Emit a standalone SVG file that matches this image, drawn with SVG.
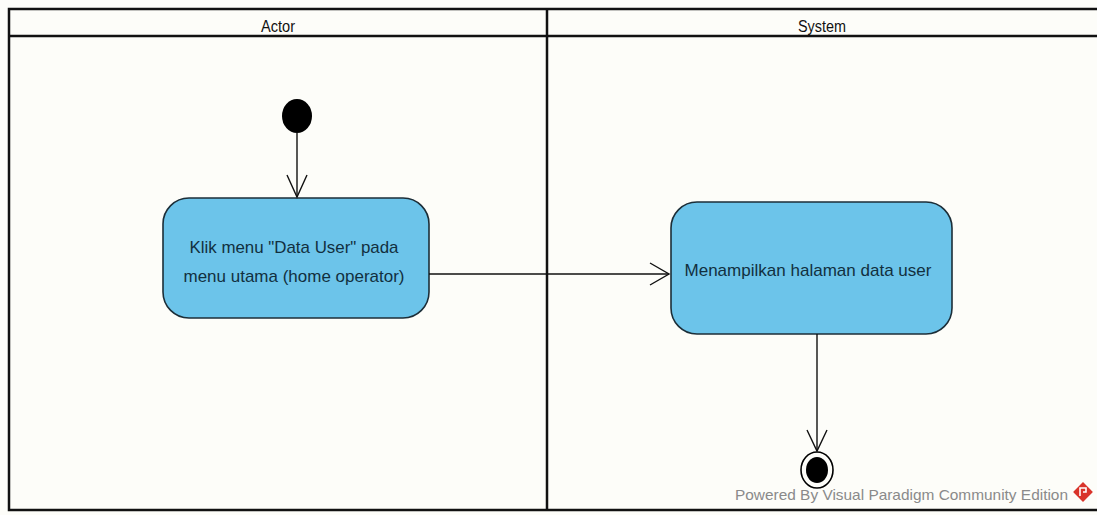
<svg xmlns="http://www.w3.org/2000/svg" width="1097" height="515" viewBox="0 0 1097 515">
  <defs>
    <style>
      .lane { fill: none; stroke: #111; stroke-width: 2.5; }
      .lane-title { font-family: "Liberation Sans", Arial, sans-serif; font-size: 16px; fill: #111; text-anchor: middle; }
      .action { fill: #6cc4ea; stroke: #1c2e38; stroke-width: 1.6; }
      .action-text { font-family: "Liberation Sans", Arial, sans-serif; font-size: 17px; fill: #12303f; text-anchor: middle; }
      .flow { fill: none; stroke: #111; stroke-width: 1.4; }
      .credit { font-family: "Liberation Sans", Arial, sans-serif; font-size: 15px; fill: #8a8a8a; }
    </style>
  </defs>

  <rect x="0" y="0" width="1097" height="515" fill="#fdfdf9"/>

  <!-- swimlane frame -->
  <g id="swimlanes">
    <rect x="9" y="9" width="1095" height="501" class="lane"/>
    <line x1="9" y1="36" x2="1097" y2="36" class="lane" stroke-width="3"/>
    <line x1="547" y1="9" x2="547" y2="510" class="lane"/>
    <text x="278" y="32" class="lane-title" textLength="34" lengthAdjust="spacingAndGlyphs">Actor</text>
    <text x="822" y="32" class="lane-title" textLength="48" lengthAdjust="spacingAndGlyphs">System</text>
  </g>

  <!-- initial node -->
  <g id="start">
    <ellipse cx="297" cy="116" rx="15" ry="17" fill="#000"/>
  </g>

  <!-- actor action -->
  <g id="klik-menu">
    <rect x="163" y="198" width="266" height="120" rx="26" ry="26" class="action"/>
    <text x="294" y="253" class="action-text" textLength="209" lengthAdjust="spacingAndGlyphs">Klik menu "Data User" pada</text>
    <text x="294" y="282" class="action-text" textLength="221" lengthAdjust="spacingAndGlyphs">menu utama (home operator)</text>
  </g>

  <!-- system action -->
  <g id="tampil-data-user">
    <rect x="671" y="202" width="281" height="132" rx="26" ry="26" class="action"/>
    <text x="808" y="276" class="action-text" textLength="247" lengthAdjust="spacingAndGlyphs">Menampilkan halaman data user</text>
  </g>

  <!-- final node -->
  <g id="end">
    <ellipse cx="817" cy="470" rx="16" ry="18" fill="none" stroke="#000" stroke-width="1.6"/>
    <ellipse cx="817" cy="470" rx="11" ry="13" fill="#000"/>
  </g>

  <!-- control flows -->
  <g id="flows">
    <line x1="297" y1="133" x2="297" y2="197" class="flow"/>
    <polyline points="287,175 297,197 307,175" class="flow"/>
    <line x1="429" y1="274" x2="669" y2="274" class="flow"/>
    <polyline points="650,263 669,274 650,285" class="flow"/>
    <line x1="817" y1="334" x2="817" y2="451" class="flow"/>
    <polyline points="807,430 817,451 827,430" class="flow"/>
  </g>

  <!-- edition credit -->
  <g id="credit">
    <text x="735" y="500" class="credit" textLength="333" lengthAdjust="spacingAndGlyphs">Powered By  Visual Paradigm Community Edition</text>
    <rect x="1076" y="485" width="14" height="14" fill="#d9342b" transform="rotate(45 1083 492)"/>
    <path d="M1080,496 L1080,488 L1086,488 L1086,492 L1083,492" fill="none" stroke="#fff" stroke-width="1.6"/>
  </g>
</svg>
